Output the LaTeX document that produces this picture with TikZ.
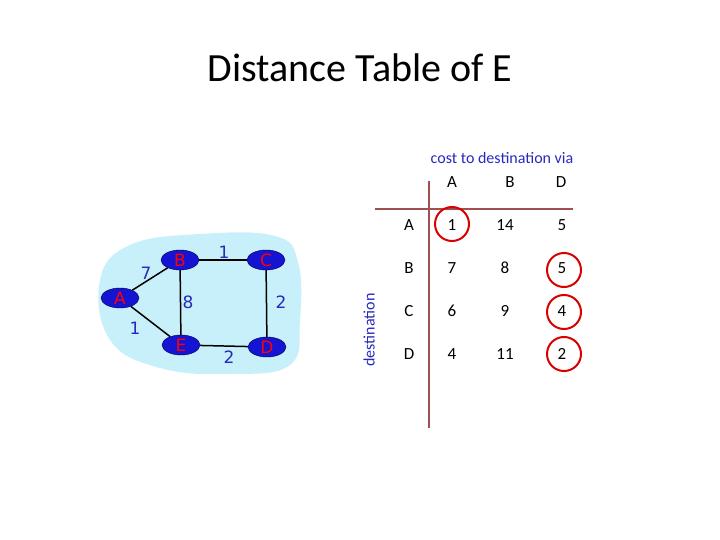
\documentclass[tikz,border=0pt]{standalone}
\usepackage{fontspec}
\setmainfont{Carlito}
\newfontfamily\netfont{DejaVu Sans}
\usetikzlibrary{shapes.geometric,backgrounds}
\definecolor{cloud}{RGB}{200,240,250}
\definecolor{rtr}{RGB}{20,20,210}
\definecolor{lbl}{RGB}{40,40,190}
\definecolor{tline}{RGB}{160,80,80}
\tikzset{
 router/.style={ellipse,draw=black!70!blue,fill=rtr,minimum width=38pt,minimum height=20pt,inner sep=0pt,text=red,font=\netfont\fontsize{17}{17}\selectfont},
 link/.style={line width=1.5pt},
 wlbl/.style={text=lbl,font=\netfont\fontsize{17}{17}\selectfont},
 cell/.style={font=\fontsize{17}{17}\selectfont},
 ring/.style={draw=red!85!black,line width=2pt,circle,minimum size=34pt},
 tl/.style={draw=tline,line width=2pt}
}
\begin{document}
\begin{tikzpicture}[x=1pt,y=-1pt]
\useasboundingbox (0,0) rectangle (720,540);
\node (title) at (360,68) {\fontsize{40}{40}\selectfont Distance Table of E};
\node[router] (A) at (120,298) {A};
\node[router] (B) at (180,260) {B};
\node[router] (C) at (266,260) {C};
\node[router] (E) at (181,345) {E};
\node[router] (D) at (267,347) {D};
\begin{scope}[on background layer]
\fill[cloud] plot[smooth cycle,tension=0.7] coordinates {(100,280) (130,245) (200,234) (275,236) (298,262) (300,320) (290,365) (230,374) (160,368) (110,340)};
\draw[link] (A) -- (B);
\draw[link] (A) -- (E);
\draw[link] (B) -- (C);
\draw[link] (B) -- (E);
\draw[link] (C) -- (D);
\draw[link] (E) -- (D);
\end{scope}
\node[wlbl] (w7) at (146,273) {7};
\node[wlbl] (w1a) at (135,328) {1};
\node[wlbl] (w8) at (188,302) {8};
\node[wlbl] (w1b) at (224,252) {1};
\node[wlbl] (w2a) at (281,302) {2};
\node[wlbl] (w2b) at (229,357) {2};
\node[text=lbl,font=\fontsize{16}{16}\selectfont] (hdr) at (502,158) {cost to destination via};
\node[text=lbl,font=\fontsize{16}{16}\selectfont,rotate=90] (dest) at (369,330) {destination};
\coordinate (vt) at (429,181); \coordinate (vb) at (429,428);
\coordinate (hl) at (375,209); \coordinate (hr) at (573,209);
\draw[tl] (vt) -- (vb);
\draw[tl] (hl) -- (hr);
\foreach \n/\x in {A/452,B/510,D/561} \node[cell] (h\n) at (\x,182) {\n};
\foreach \r/\y/\a/\b/\d in {A/225/1/14/5,B/268/7/8/5,C/311/6/9/4,D/354/4/11/2}{
 \node[cell] (r\r) at (409,\y) {\r};
 \node[cell] (a\r) at (452,\y) {\a};
 \node[cell] (b\r) at (505,\y) {\b};
 \node[cell] (d\r) at (562,\y) {\d};
}
\node[ring] (c1) at (452,224) {};
\node[ring] (c2) at (564,270) {};
\node[ring] (c3) at (564,312) {};
\node[ring] (c4) at (564,354) {};
\end{tikzpicture}
\end{document}
